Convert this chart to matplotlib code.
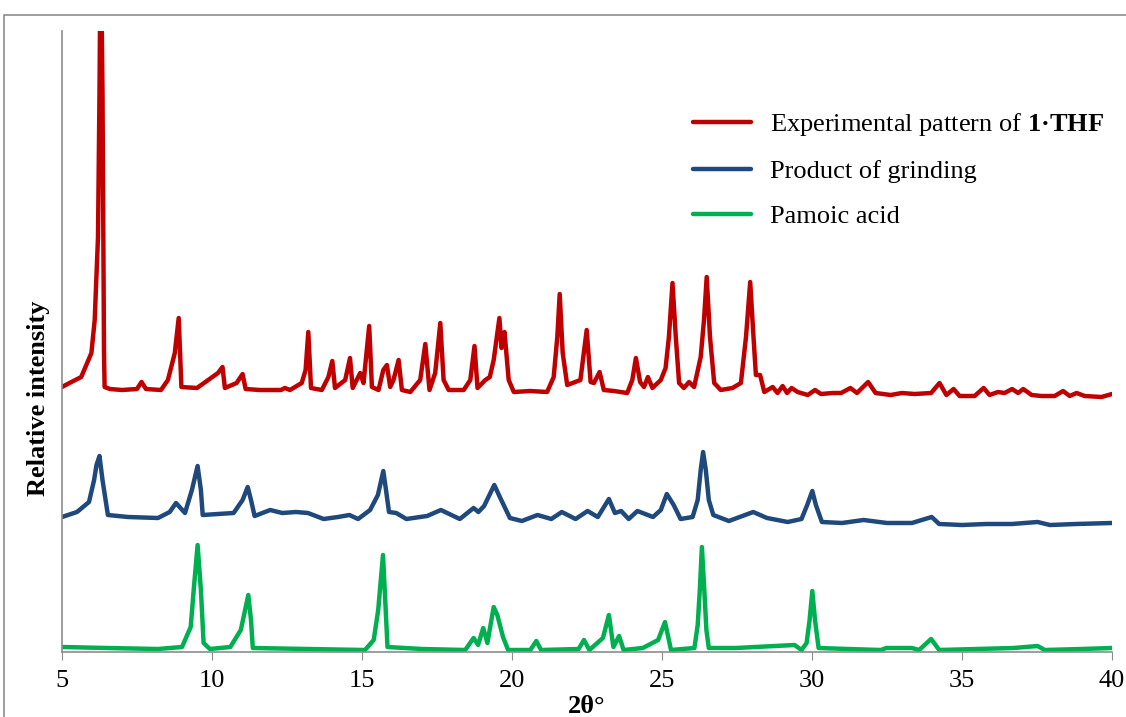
import matplotlib.pyplot as plt
from matplotlib.patches import Rectangle

plt.rcParams['font.family'] = ['Liberation Serif', 'DejaVu Serif']
plt.rcParams['mathtext.fontset'] = 'custom'
plt.rcParams['mathtext.rm'] = 'Liberation Serif'
plt.rcParams['mathtext.bf'] = 'Liberation Serif:bold'

# experimental pattern of 1·THF (offset trace, top)
thf_x = [5.0, 5.25, 5.64, 5.98, 6.09, 6.2, 6.25, 6.29, 6.35, 6.4, 6.42, 6.6, 7.0, 7.5, 7.65, 7.8,
         8.3, 8.53, 8.76, 8.89, 8.98, 9.5, 10.2, 10.35, 10.43, 10.82, 11.02, 11.12, 11.6, 12.3, 12.43,
         12.6, 12.99, 13.12, 13.21, 13.3, 13.66, 13.88, 14.01, 14.1, 14.44, 14.6, 14.69, 14.94, 15.05,
         15.24, 15.33, 15.55, 15.71, 15.83, 15.94, 16.05, 16.22, 16.33, 16.61, 16.94, 17.11, 17.25,
         17.44, 17.61, 17.72, 17.89, 18.39, 18.61, 18.75, 18.85, 19.11, 19.26, 19.39, 19.47, 19.58,
         19.65, 19.75, 19.89, 20.06, 20.6, 21.17, 21.39, 21.51, 21.59, 21.69, 21.84, 22.28, 22.49, 22.62,
         22.73, 22.92, 23.06, 23.4, 23.84, 24.01, 24.13, 24.27, 24.4, 24.53, 24.68, 24.96, 25.12, 25.23,
         25.35, 25.46, 25.57, 25.73, 25.9, 26.07, 26.29, 26.4, 26.49, 26.6, 26.74, 26.96, 27.35,
         27.63, 27.8, 27.94, 28.05, 28.13, 28.27, 28.41, 28.69, 28.85, 29.02, 29.17, 29.32, 29.52,
         29.86, 30.1, 30.3, 30.69, 30.97, 31.28, 31.5, 31.87, 32.12, 32.62, 33.0, 33.42, 33.97, 34.25,
         34.48, 34.72, 34.92, 35.42, 35.72, 35.92, 36.2, 36.42, 36.67, 36.87, 37.04, 37.32, 37.65,
         38.09, 38.37, 38.59, 38.82, 39.09, 39.65, 40.0]
thf_y = [265, 269, 275, 299, 332, 415, 560, 720, 560, 300, 265, 263, 262, 263, 270, 263,
         262, 272, 299, 334, 265, 264, 279, 285, 264, 269, 278, 263, 262, 262, 264,
         262, 269, 282, 320, 264, 262, 275, 291, 264, 272, 294, 264, 279, 269,
         326, 265, 262, 282, 287, 265, 272, 292, 262, 260, 272, 308, 262,
         279, 329, 272, 262, 262, 272, 306, 264, 272, 275, 292, 310, 334,
         304, 320, 272, 260, 261, 260, 275, 315, 358, 299, 267, 272, 322, 270,
         269, 280, 262, 261, 259, 272, 294, 270, 265, 275, 264, 272, 284, 315,
         369, 315, 269, 264, 270, 265, 295, 332, 375, 315, 269, 262, 264,
         269, 315, 370, 315, 277, 277, 260, 265, 259, 266, 259, 264, 260,
         257, 262, 258, 259, 259, 264, 259, 270, 259, 257, 259, 258, 259, 269,
         257, 263, 256, 256, 264, 257, 260, 259, 263, 259, 263, 257, 256,
         256, 261, 256, 259, 256, 255, 258]

# product of grinding (middle trace)
grind_x = [5.0, 5.5, 5.9, 6.07, 6.15, 6.25, 6.35, 6.53, 7.2, 8.2, 8.59, 8.8, 9.1, 9.33, 9.52, 9.63, 9.69,
           10.2, 10.72, 11.02, 11.19, 11.3, 11.42, 11.94, 12.34, 12.8, 13.2, 13.72, 14.2, 14.58, 14.87,
           15.27, 15.53, 15.71, 15.8, 15.9, 16.14, 16.48, 17.17, 17.63, 18.26, 18.72, 18.88, 19.07,
           19.41, 19.61, 19.93, 20.33, 20.85, 21.31, 21.66, 22.12, 22.52, 22.86, 23.23, 23.43, 23.64,
           23.89, 24.18, 24.7, 24.96, 25.16, 25.39, 25.62, 26.02, 26.19, 26.29, 26.37, 26.46, 26.56,
           26.71, 27.23, 28.04, 28.5, 29.19, 29.65, 29.84, 30.01, 30.13, 30.33, 31.0, 31.72, 32.5,
           33.33, 33.99, 34.24, 35.0, 35.8, 36.66, 37.52, 37.93, 38.8, 40.0]
grind_y = [135, 140, 150, 172, 187, 196, 172, 137, 135, 134, 140, 149, 139, 162, 186, 162, 137,
           138, 139, 152, 165, 152, 136, 142, 139, 140, 139, 133, 135, 137, 133,
           142, 157, 181, 162, 140, 139, 133, 136, 142, 133, 144, 140, 146,
           167, 154, 134, 131, 137, 133, 140, 133, 141, 135, 153, 139, 141,
           133, 141, 135, 142, 158, 147, 133, 135, 152, 182, 200, 182, 152,
           137, 131, 140, 134, 130, 133, 147, 161, 147, 130, 129, 132, 129,
           129, 135, 128, 127, 128, 128, 130, 127, 128, 129]

# pamoic acid (bottom trace)
pam_x = [5.0, 6.5, 8.2, 9.0, 9.29, 9.39, 9.52, 9.63, 9.72, 9.93, 10.61, 10.96, 11.21, 11.3, 11.36,
         13.2, 15.1, 15.39, 15.54, 15.7, 15.79, 15.85, 17.0, 18.44, 18.72, 18.87, 19.04, 19.18, 19.39,
         19.51, 19.7, 19.87, 20.61, 20.81, 20.97, 22.22, 22.4, 22.58, 23.03, 23.23, 23.38, 23.57,
         23.72, 24.36, 24.87, 25.1, 25.3, 26.08, 26.19, 26.26, 26.33, 26.41, 26.48, 26.56, 27.46,
         29.42, 29.65, 29.82, 29.92, 30.01, 30.1, 30.22, 31.2, 32.3, 32.47, 33.33, 33.57, 33.97,
         34.24, 35.5, 36.72, 37.52, 37.76, 39.0, 40.0]
pam_y = [5, 4, 3, 5, 25, 62, 107, 62, 9, 3, 5, 22, 57, 32, 4,
         3, 2, 12, 42, 97, 42, 5, 3, 2, 14, 7, 24, 9, 45,
         37, 15, 2, 2, 11, 2, 3, 12, 2, 14, 37, 5, 16,
         2, 4, 12, 30, 2, 4, 27, 62, 105, 62, 22, 4, 4,
         7, 2, 9, 32, 61, 32, 4, 3, 2, 4, 4, 2, 13,
         2, 3, 4, 6, 2, 3, 4]

labels = ['Experimental pattern of $\\mathbf{1·THF}$', 'Product of grinding', 'Pamoic acid']
colors = ['#C00000', '#1F497D', '#00B050']

fig = plt.figure(figsize=(11.26, 7.17), dpi=100)
fig.patches.append(Rectangle((4 / 1126, -0.1), 1.2, 1 - 15 / 717 + 0.1, transform=fig.transFigure,
                             fill=False, edgecolor='#8c8c8c', linewidth=1.2))
ax = fig.add_axes([62 / 1126, 1 - 652 / 717, 1050 / 1126, 621 / 717])

for xs, ys, lab, col in zip([thf_x, grind_x, pam_x], [thf_y, grind_y, pam_y], labels, colors):
    ax.plot(xs, ys, color=col, lw=3.2, label=lab, solid_joinstyle='round', solid_capstyle='round')

ax.set_xlim(5, 40)
ax.set_ylim(0, 621)
ax.set_xticks(range(5, 41, 5))
ax.set_yticks([])
for s in ['top', 'right']:
    ax.spines[s].set_visible(False)
for s in ['left', 'bottom']:
    ax.spines[s].set_color('#8c8c8c')
    ax.spines[s].set_linewidth(1.2)
ax.tick_params(axis='x', direction='out', length=6, color='#8c8c8c', labelsize=19, pad=7)
ax.set_xlabel('2θ°', fontsize=19, fontweight='bold')
ax.xaxis.set_label_coords(0.5, -0.07)
ax.set_ylabel('Relative intensity', fontsize=19, fontweight='bold')
ax.yaxis.set_label_coords(-0.0114, 0.408)

ax.legend(loc='upper left', bbox_to_anchor=(0.601, 0.871), frameon=False, fontsize=19,
          handlelength=2.2, handletextpad=0.7, labelspacing=0.81, borderpad=0, borderaxespad=0)

fig.savefig('out.png', dpi=100)
